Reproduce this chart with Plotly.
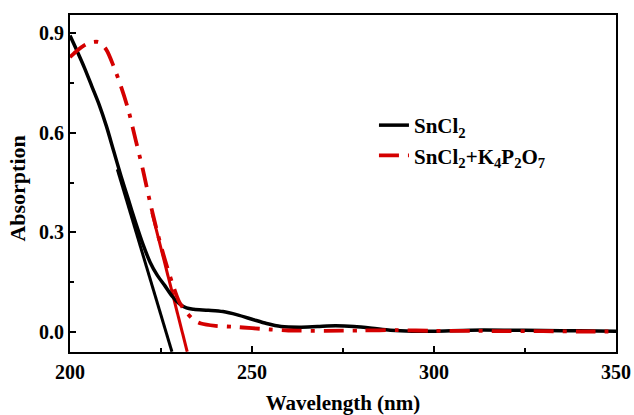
import plotly.graph_objects as go

# ---- data ----
wl_sncl2 = [200, 202, 204, 206, 208, 210, 212, 214, 216, 218, 220, 222, 224, 226, 228, 230,
            232, 234, 238, 242, 246, 250, 254, 258, 263, 268, 273, 278, 283, 288, 294, 300,
            310, 320, 330, 340, 350]
abs_sncl2 = [0.893, 0.845, 0.795, 0.740, 0.685, 0.620, 0.545, 0.470, 0.400, 0.330, 0.265, 0.210,
             0.170, 0.140, 0.108, 0.085, 0.072, 0.068, 0.065, 0.061, 0.051, 0.038, 0.025, 0.016,
             0.014, 0.016, 0.018, 0.016, 0.011, 0.005, 0.002, 0.002, 0.005, 0.005, 0.004, 0.003,
             0.002]

wl_mix = [200, 202, 204, 206, 208, 210, 212, 214, 216, 218, 220, 222, 224, 226, 228, 230, 232,
          234, 236, 240, 245, 250, 255, 260, 270, 280, 290, 300, 310, 320, 330, 340, 350]
abs_mix = [0.828, 0.848, 0.864, 0.873, 0.873, 0.850, 0.800, 0.740, 0.670, 0.580, 0.490, 0.390,
           0.300, 0.220, 0.150, 0.090, 0.058, 0.036, 0.025, 0.018, 0.015, 0.011, 0.007, 0.004,
           0.003, 0.004, 0.005, 0.003, 0.003, 0.002, 0.002, 0.001, 0.001]

# tangent (band-edge extrapolation) lines
tan_sncl2_x = [213, 228]
tan_sncl2_y = [0.49, -0.06]
tan_mix_x = [222.5, 232.2]
tan_mix_y = [0.36, -0.06]

x_ticks = [200, 250, 300, 350]
y_ticks = [0.0, 0.3, 0.6, 0.9]
y_ticktext = ["0.0", "0.3", "0.6", "0.9"]

name_sncl2 = "SnCl<sub>2</sub>"
name_mix = "SnCl<sub>2</sub>+K<sub>4</sub>P<sub>2</sub>O<sub>7</sub>"

BLACK = "#000000"
RED = "#d40000"
FONT = "Liberation Serif"

fig = go.Figure()
fig.add_trace(go.Scatter(x=tan_sncl2_x, y=tan_sncl2_y, mode="lines",
                         line=dict(color=BLACK, width=3), showlegend=False, hoverinfo="skip"))
fig.add_trace(go.Scatter(x=tan_mix_x, y=tan_mix_y, mode="lines",
                         line=dict(color=RED, width=3), showlegend=False, hoverinfo="skip"))
fig.add_trace(go.Scatter(x=wl_sncl2, y=abs_sncl2, mode="lines", name=name_sncl2,
                         line=dict(color=BLACK, width=3.5, shape="spline", smoothing=0.8)))
fig.add_trace(go.Scatter(x=wl_mix, y=abs_mix, mode="lines", name=name_mix,
                         line=dict(color=RED, width=3.8, shape="spline", smoothing=0.8,
                                   dash="20px,9px,4px,9px")))

axis_common = dict(
    showline=True, linewidth=2, linecolor=BLACK, mirror=True,
    showgrid=False, zeroline=False, automargin=False,
    ticks="inside", ticklen=6, tickwidth=2, tickcolor=BLACK,
    tickfont=dict(family=FONT, size=20, color=BLACK, weight="bold"),
)

fig.update_layout(
    width=634, height=415,
    margin=dict(l=70, r=18, t=15, b=63),
    paper_bgcolor="white", plot_bgcolor="white",
    font=dict(family=FONT, color=BLACK),
    xaxis=dict(
        range=[200, 350], tickvals=x_ticks,
        minor=dict(ticks="inside", ticklen=4, tickwidth=2, tickcolor=BLACK, dtick=25, tick0=200),
        title=dict(text="Wavelength (nm)", font=dict(family=FONT, size=21, color=BLACK, weight="bold"),
                   standoff=23),
        ticklabelstandoff=1,
        **axis_common,
    ),
    yaxis=dict(
        range=[-0.0608, 0.955], tickvals=y_ticks, ticktext=y_ticktext,
        minor=dict(ticks="inside", ticklen=4, tickwidth=2, tickcolor=BLACK, dtick=0.15, tick0=0),
        ticklabelstandoff=0,
        **axis_common,
    ),
    annotations=[dict(
        text="Absorption", textangle=-90, showarrow=False,
        xref="paper", yref="paper", x=-0.0952, y=0.485, xanchor="center", yanchor="middle",
        font=dict(family=FONT, size=22, color=BLACK, weight="bold"),
    )],
    legend=dict(
        x=0.5567, y=0.733, xanchor="left", yanchor="top",
        bgcolor="rgba(0,0,0,0)", borderwidth=0,
        font=dict(family=FONT, size=21, color=BLACK, weight="bold"),
        tracegroupgap=0,
    ),
    showlegend=True,
)

# remove the default 8px page margin so the 634x415 figure fills the window exactly
fig.write_html("out.html", config={"displayModeBar": False},
               post_script="document.body.style.margin='0px';")
